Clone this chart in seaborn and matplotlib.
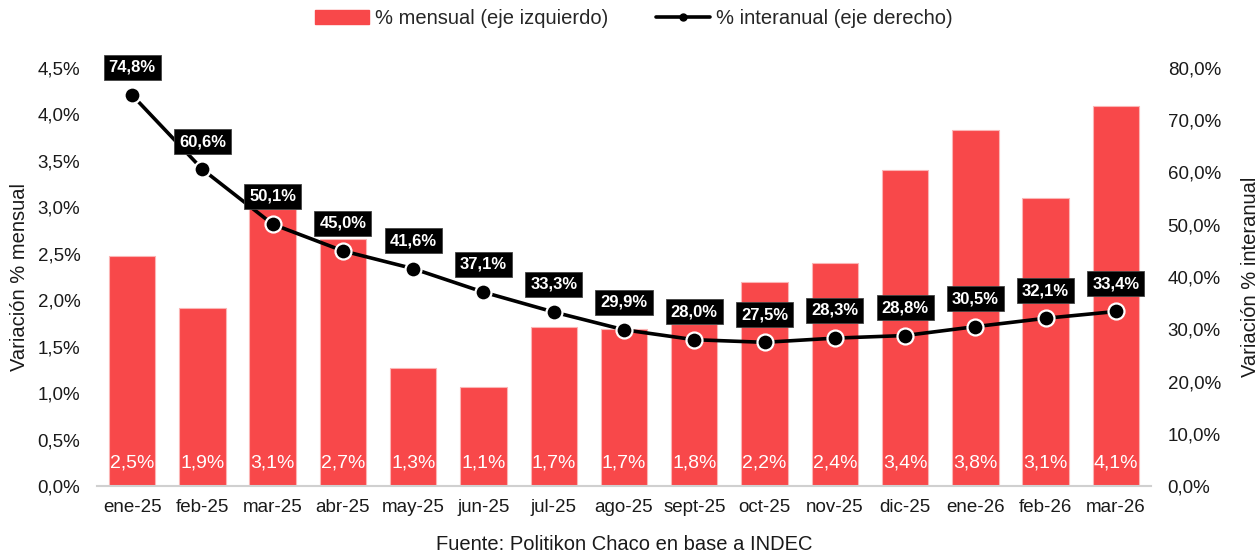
import matplotlib
matplotlib.use("Agg")
import matplotlib.pyplot as plt
import matplotlib.ticker as mticker
from matplotlib.patches import Patch
from matplotlib.lines import Line2D
import seaborn as sns
import pandas as pd
import numpy as np

# Data
meses = ["ene-25", "feb-25", "mar-25", "abr-25", "may-25", "jun-25", "jul-25", "ago-25",
         "sept-25", "oct-25", "nov-25", "dic-25", "ene-26", "feb-26", "mar-26"]
mensual = [2.48, 1.92, 2.98, 2.66, 1.27, 1.07, 1.71, 1.69, 1.74, 2.20, 2.40, 3.40, 3.83, 3.10, 4.09]
mensual_etiquetas = ["2,5%", "1,9%", "3,1%", "2,7%", "1,3%", "1,1%", "1,7%", "1,7%",
                     "1,8%", "2,2%", "2,4%", "3,4%", "3,8%", "3,1%", "4,1%"]
interanual = [74.8, 60.6, 50.1, 45.0, 41.6, 37.1, 33.3, 29.9, 28.0, 27.5, 28.3, 28.8, 30.5, 32.1, 33.4]

ROJO = "#F8484A"
TXT = "#1a1a1a"

sns.set_theme(style="white")
plt.rcParams['font.family'] = ['Liberation Sans', 'DejaVu Sans']

df = pd.DataFrame({"mes": meses, "mensual": mensual, "interanual": interanual})


def fmt_pct(decimals):
    return mticker.FuncFormatter(lambda v, p: f"{v:.{decimals}f}%".replace(".", ","))


def main():
    fig, ax = plt.subplots(figsize=(12.6, 5.54), dpi=100)
    fig.subplots_adjust(left=0.077, right=0.9135, bottom=0.1227, top=0.8773)

    # bars (left axis)
    sns.barplot(data=df, x="mes", y="mensual", color=ROJO, saturation=1, width=0.66,
                edgecolor="#FBB5B5", linewidth=0.8, ax=ax)
    ax.set_ylim(0, 4.5)
    ax.set_xlim(-0.5, len(meses) - 0.5)
    ax.yaxis.set_major_locator(mticker.MultipleLocator(0.5))
    ax.yaxis.set_major_formatter(fmt_pct(1))
    ax.set_ylabel("Variación % mensual", fontsize=14.5, color=TXT)
    ax.yaxis.set_label_coords(-0.065, 0.5)
    ax.set_xlabel("Fuente: Politikon Chaco en base a INDEC", fontsize=14.5, color=TXT, labelpad=14)
    ax.tick_params(axis="both", labelsize=13.5, colors=TXT, length=0)
    ax.tick_params(axis="x", pad=9)
    ax.tick_params(axis="y", pad=12)
    for s in ["top", "right", "left"]:
        ax.spines[s].set_visible(False)
    ax.spines["bottom"].set_color("#d0d0d0")
    ax.spines["bottom"].set_linewidth(1.5)

    for i, lab in enumerate(mensual_etiquetas):
        ax.text(i, 0.25, lab, ha="center", va="center", color="white", fontsize=14)

    # line (right axis)
    ax2 = ax.twinx()
    sns.lineplot(x=np.arange(len(meses)), y=interanual, ax=ax2, color="black", linewidth=2.6,
                 marker="o", markersize=11.5, markerfacecolor="black", markeredgecolor="white",
                 markeredgewidth=1.6)
    ax2.set_ylim(0, 80)
    ax2.yaxis.set_major_locator(mticker.MultipleLocator(10))
    ax2.yaxis.set_major_formatter(fmt_pct(1))
    ax2.set_ylabel("Variación % interanual", fontsize=14.5, color=TXT)
    ax2.yaxis.set_label_coords(1.085, 0.5)
    ax2.tick_params(axis="y", labelsize=13.5, colors=TXT, length=0, pad=12)
    for s in ["top", "right", "left", "bottom"]:
        ax2.spines[s].set_visible(False)

    for i, v in enumerate(interanual):
        ax2.annotate(f"{v:.1f}%".replace(".", ","), (i, v), xytext=(0, 20),
                     textcoords="offset points", ha="center", va="center",
                     color="white", fontsize=12, fontweight="bold",
                     bbox=dict(boxstyle="square,pad=0.3", fc="black", ec="#444444", lw=0.6))

    # legend
    handles = [Patch(facecolor=ROJO, edgecolor=ROJO),
               Line2D([0], [0], color="black", linewidth=2.6, marker="o", markersize=5)]
    fig.legend(handles, ["% mensual (eje izquierdo)", "% interanual (eje derecho)"],
               loc="center", bbox_to_anchor=(0.503, 0.967), ncol=2, frameon=False,
               fontsize=14.5, handlelength=2.65, handleheight=0.7, columnspacing=2.4,
               handletextpad=0.3)

    fig.savefig("out.png", dpi=100)


if __name__ == "__main__":
    main()
